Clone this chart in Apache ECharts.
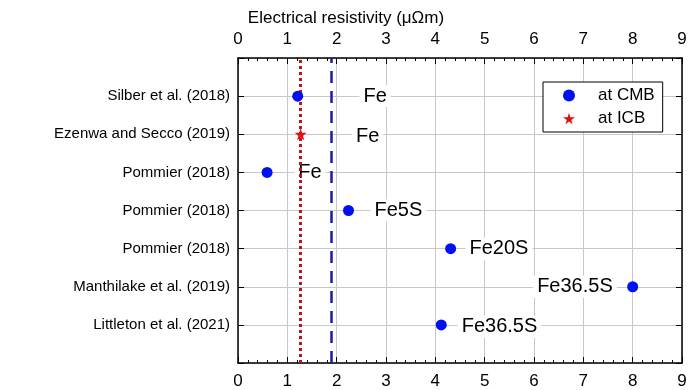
<!DOCTYPE html>
<html>
<head>
<meta charset="utf-8">
<script src="https://cdn.jsdelivr.net/npm/echarts@6/dist/echarts.min.js"></script>
<style>
  html, body { margin: 0; padding: 0; background: #fff; }
  #chart { width: 692px; height: 390px; }
</style>
</head>
<body>
<div id="chart"></div>
<script>
// rows from bottom (1) to top (7)
var studies = ['Littleton et al. (2021)', 'Manthilake et al. (2019)', 'Pommier (2018)',
               'Pommier (2018)', 'Pommier (2018)', 'Ezenwa and Secco (2019)', 'Silber et al. (2018)'];
var cmbPoints = [[4.12, 1], [8.0, 2], [4.31, 3], [2.24, 4], [0.59, 5], [1.21, 7]];
var icbPoints = [[1.27, 6]];
var icbError = [[1.2, 6], [1.34, 6]];
var compLabels = ['Fe36.5S', 'Fe36.5S', 'Fe20S', 'Fe5S', 'Fe', 'Fe', 'Fe'];
var labelPos = [[5.3, 0.95], [6.83, 2], [5.29, 3], [3.25, 4], [1.46, 5], [2.63, 5.93], [2.78, 7]];
var cmbLine = 1.89;
var icbLine = 1.27;

var font = 'Liberation Sans';
var labelData = labelPos.map(function (p, i) { return { value: p, name: compLabels[i] }; });

var axisCommon = {
  type: 'value', min: 0, max: 9, interval: 1,
  axisLine: { onZero: false, lineStyle: { color: '#000', width: 1.5 } },
  axisTick: { inside: true, length: 6, lineStyle: { color: '#000' } },
  minorTick: { show: true, splitNumber: 5, length: 3, lineStyle: { color: '#000' } },
  axisLabel: { color: '#000', fontSize: 17, fontFamily: font, margin: 10 },
  splitLine: { show: true, lineStyle: { color: '#c8c8c8', width: 1 } }
};

var myChart = echarts.init(document.getElementById('chart'));
var option = {
  backgroundColor: '#fff',
  animation: false,
  title: {
    text: 'Electrical resistivity (\u03bc\u03a9m)',
    left: 'center', top: 5,
    textStyle: { color: '#000', fontSize: 17, fontWeight: 'normal', fontFamily: font }
  },
  legend: {
    left: 543, top: 82,
    orient: 'vertical',
    data: [{ name: 'at CMB', icon: 'circle' }, { name: 'at ICB' }],
    itemWidth: 12, itemHeight: 12, itemGap: 6,
    padding: [5, 8, 5, 20],
    borderColor: '#000', borderWidth: 1, borderRadius: 0,
    backgroundColor: '#fff',
    textStyle: { color: '#000', fontSize: 17, fontFamily: font, padding: [0, 0, 0, 18] }
  },
  grid: { left: 238, right: 10, top: 58, bottom: 26 },
  xAxis: [
    echarts.util.merge({ position: 'bottom' }, axisCommon),
    echarts.util.merge({ position: 'top', splitLine: { show: false } }, axisCommon)
  ],
  yAxis: [
    {
      type: 'value', min: 0, max: 8, interval: 1, position: 'left',
      axisLine: { onZero: false, lineStyle: { color: '#000', width: 1.5 } },
      axisTick: { inside: true, length: 6, lineStyle: { color: '#000' } },
      axisLabel: {
        color: '#000', fontSize: 15, fontFamily: font, margin: 8,
        formatter: function (v) { return (v >= 1 && v <= 7) ? studies[v - 1] : ''; }
      },
      splitLine: { show: true, lineStyle: { color: '#c8c8c8', width: 1 } }
    },
    {
      type: 'value', min: 0, max: 8, interval: 1, position: 'right',
      axisLine: { show: true, onZero: false, lineStyle: { color: '#000', width: 1.5 } },
      axisTick: { show: true, inside: true, length: 6, lineStyle: { color: '#000' } },
      axisLabel: { show: false },
      splitLine: { show: false }
    }
  ],
  series: [
    {
      name: 'lines', type: 'line', data: [], silent: true,
      markLine: {
        symbol: 'none', silent: true, label: { show: false },
        data: [
          { xAxis: icbLine, lineStyle: { color: '#c0141c', type: [3, 3], width: 3 } },
          { xAxis: cmbLine, lineStyle: { color: '#1c1c9c', type: [12, 8], width: 2.5 } }
        ]
      }
    },
    {
      name: 'labels', type: 'scatter', data: labelData, symbolSize: 0, silent: true,
      itemStyle: { opacity: 1 },
      label: {
        show: true, position: 'inside', formatter: '{b}',
        color: '#000', fontSize: 20, fontFamily: font,
        backgroundColor: '#fff', padding: [1, 4]
      },
      z: 3
    },
    {
      name: 'icbErr', type: 'line', data: icbError, symbol: 'none', silent: true,
      lineStyle: { color: '#e01010', width: 2 }, z: 4
    },
    {
      name: 'at CMB', type: 'scatter', data: cmbPoints, symbol: 'circle', symbolSize: 11,
      itemStyle: { color: '#0010f0', opacity: 1 }, z: 5
    },
    {
      name: 'at ICB', type: 'scatter', data: icbPoints, symbol: 'path://M50,0 L61,35 L98,35 L68,57 L79,91 L50,70 L21,91 L32,57 L2,35 L39,35 Z',
      symbolSize: 12, itemStyle: { color: '#e01010', opacity: 1 }, z: 5
    }
  ]
};
myChart.setOption(option);
</script>
</body>
</html>
